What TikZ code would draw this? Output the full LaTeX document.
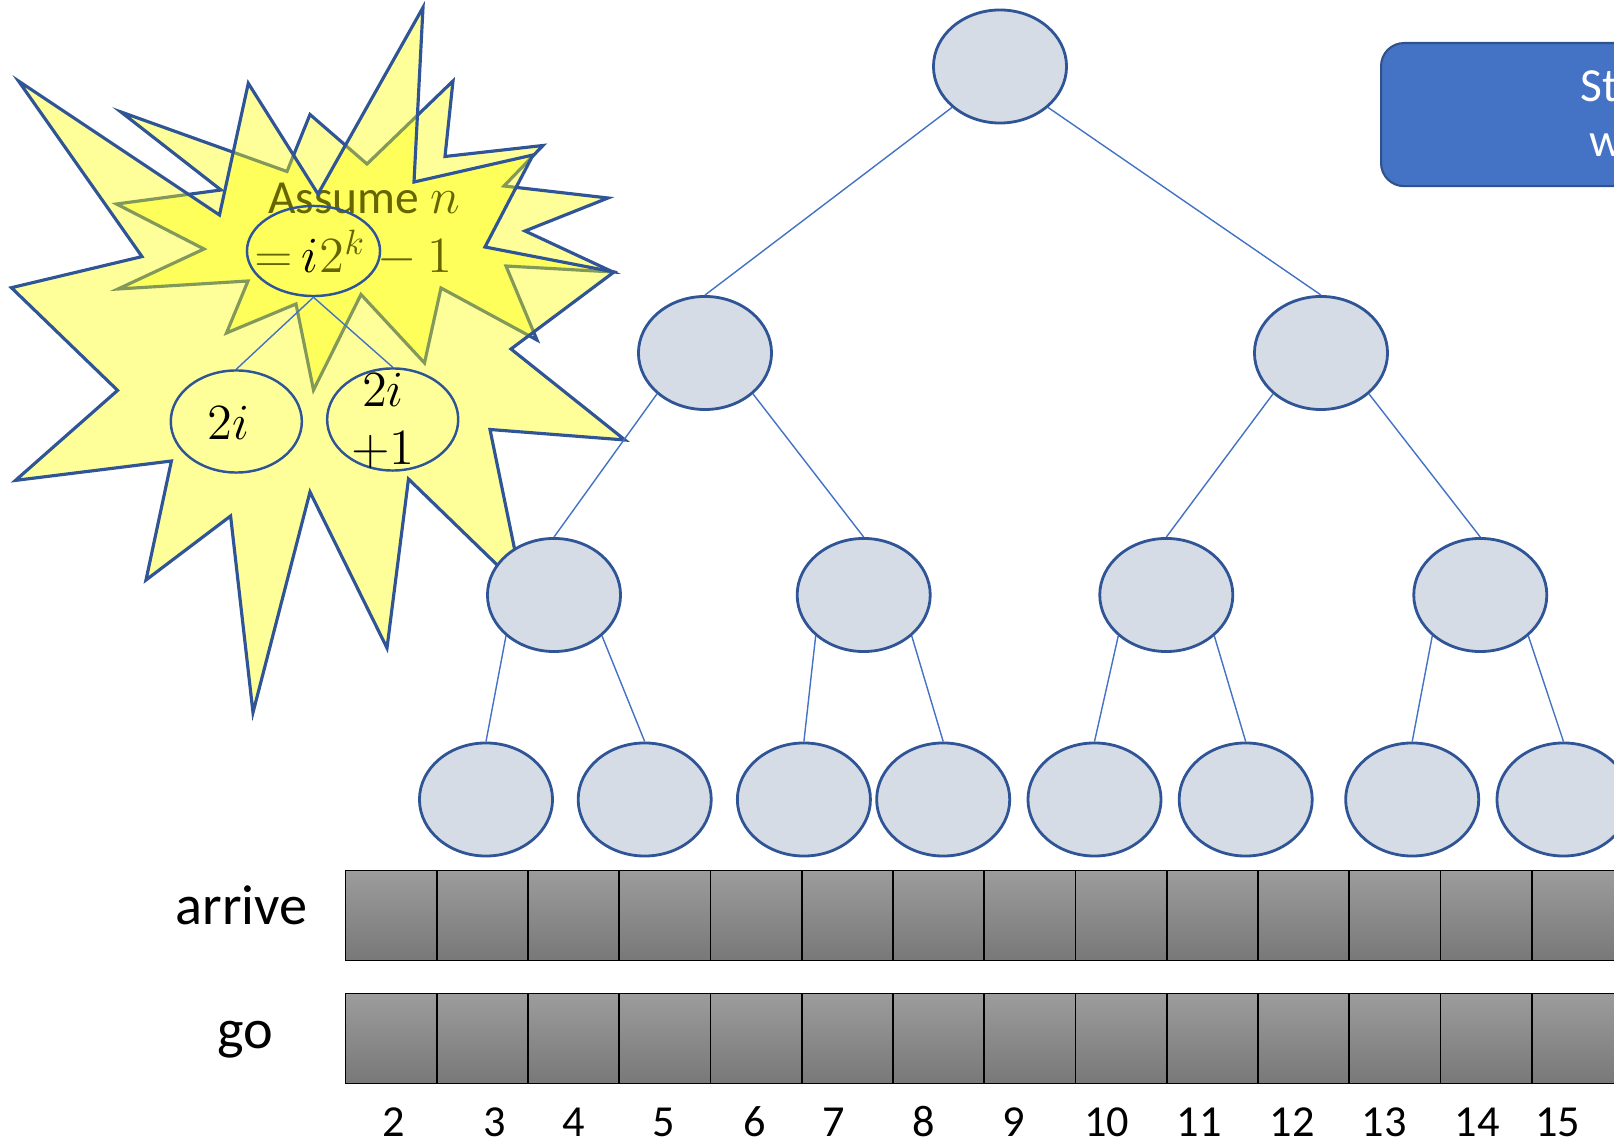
\documentclass[tikz,border=0pt]{standalone}
\usepackage[no-math]{fontspec}
\setmainfont{Carlito}
\usetikzlibrary{positioning,shapes.geometric}

\definecolor{nodefill}{HTML}{D6DCE5}
\definecolor{nodeline}{HTML}{2F5597}
\definecolor{edgeline}{HTML}{4472C4}
\definecolor{boxfill}{HTML}{4472C4}
\definecolor{boxline}{HTML}{2F528F}
\definecolor{burst}{HTML}{FFFF00}
\definecolor{celltop}{RGB}{156,156,156}
\definecolor{cellbot}{RGB}{120,120,120}

\tikzset{
  heapnode/.style={ellipse, draw=nodeline, fill=nodefill, line width=0.8pt,
    minimum width=1.33cm, minimum height=1.13cm, inner sep=0pt},
  heapedge/.style={draw=edgeline, line width=0.4pt},
  burststar/.style={draw=nodeline, line width=0.9pt, fill=burst, fill opacity=0.4, line join=miter},
  mininode/.style={ellipse, draw=nodeline, line width=0.7pt, inner sep=0pt},
  minitext/.style={inner sep=0pt, align=center, font=\fontsize{14.5}{16.5}\selectfont},
  cell/.style={draw=black, line width=0.45pt, top color=celltop, bottom color=cellbot,
    minimum width=0.9125cm, minimum height=0.9cm, inner sep=0pt, anchor=north west},
  rowlabel/.style={anchor=base, font=\fontsize{16}{19}\selectfont},
  idxlabel/.style={anchor=base, font=\fontsize{12.6}{15}\selectfont},
  notetext/.style={anchor=base west, inner sep=0pt, text=white, font=\fontsize{13.5}{16}\selectfont},
}

\begin{document}
\begin{tikzpicture}[x=0.01cm,y=-0.01cm]
\useasboundingbox (0,0) rectangle (1614,1146);
\clip (0,0) rectangle (1614,1146);

% small burst (behind) with its text
\draw[burststar] (121,112) -- (287,171.5) -- (310,114.5) -- (367,164) -- (453,81) -- (445,156.5)
  -- (543,145.5) -- (504,186) -- (608,198) -- (525,231) -- (613,272) -- (506,266)
  -- (537,340) -- (441,288) -- (424.5,363) -- (361,294.5) -- (313.5,390) -- (296,304)
  -- (226.5,333) -- (248,281) -- (118,289) -- (204,249) -- (116.5,204) -- (221,190) -- cycle;
\node[anchor=base, font=\fontsize{13.5}{16}\selectfont] (assume) at (364,214) {Assume $n$};
\node[inner sep=0pt, anchor=base, font=\fontsize{14}{16}\selectfont] (tii) at (310,273) {\phantom{$i$}};
\node[inner sep=0pt, anchor=base east, font=\fontsize{14}{16}\selectfont] (teq) at ([xshift=-2]tii.base west) {$=$};
\node[inner sep=0pt, anchor=base west, font=\fontsize{14}{16}\selectfont] (tpow) at (tii.base east) {$2^k-1$};

% big burst (front)
\draw[burststar] (18.5,81) -- (219.5,215) -- (248.3,83.3) -- (318,194) -- (423,7.5) -- (414,182)
  -- (533,155) -- (485,247) -- (614,272) -- (511,349) -- (625,440) -- (490,429.5)
  -- (523,590) -- (408.5,479) -- (387,648) -- (310,492) -- (253,712.5) -- (230.6,516)
  -- (146,580) -- (171.4,461) -- (15.5,480.4) -- (117.6,390.4) -- (11.4,287.7) -- (142,256.6) -- cycle;

% small tree in the burst
\node[mininode, minimum width=1.33cm, minimum height=0.9cm] (mi) at (313.5,251) {};
\node[inner sep=0pt, anchor=base, font=\fontsize{14}{16}\selectfont] (ilab) at (tii.base) {$i$};
\node[mininode, minimum width=1.31cm, minimum height=1.02cm] (m2i) at (236.3,421.5) {};
\node[mininode, minimum width=1.31cm, minimum height=1.02cm] (m2ione) at (392.7,419.5) {};
\node[minitext] (m2ilab) at (228.5,423) {$2i$};
\node[minitext] (m2ionelab) at (383,421) {$2i$\\$+1$};
\draw[heapedge] (mi.south) -- (m2i.north);
\draw[heapedge] (mi.south) -- (m2ione.north);

% heap tree
\node[heapnode] (r) at (1000,66.5) {};
\node[heapnode] (l) at (705,353) {};
\node[heapnode] (rr) at (1321,353) {};
\node[heapnode] (c1) at (554,595) {};
\node[heapnode] (c2) at (863.7,595) {};
\node[heapnode] (c3) at (1166.3,595) {};
\node[heapnode] (c4) at (1480.3,595) {};
\foreach \x [count=\i] in {486,644.7,803.9,943.2,1094.5,1245.7,1412.2,1563.5}
  \node[heapnode] (d\i) at (\x,799.5) {};
\foreach \p/\a/\b in {r/l/rr, l/c1/c2, rr/c3/c4, c1/d1/d2, c2/d3/d4, c3/d5/d6, c4/d7/d8} {
  \draw[heapedge] (\p.south west) -- (\a.north);
  \draw[heapedge] (\p.south east) -- (\b.north);
}

% note box, cut at the right edge
\node[draw=boxline, fill=boxfill, line width=0.6pt, rounded corners=0.23cm,
  minimum width=4cm, minimum height=1.43cm, anchor=north west] (note) at (1380,42) {};
\node[notetext] (notea) at (1580,101.5) {St};
\node[notetext] (noteb) at (1589,156.5) {w};

% arrays
\foreach \k in {0,...,14} {
  \node[cell] (arr\k) at ({344.7+91.25*\k},869.8) {};
  \node[cell] (go\k) at ({344.7+91.25*\k},992.8) {};
}
\node[rowlabel] (arrlab) at (241.5,925) {arrive};
\node[rowlabel] (golab) at (245,1048) {go};
\foreach \x/\n in {393.5/2, 494.5/3, 573.5/4, 664/5, 754.5/6, 834/7, 924/8, 1014/9,
  1106.5/10, 1199/11, 1292/12, 1384/13, 1477/14, 1557.5/15}
  \node[idxlabel] (idx\n) at (\x,1136.5) {\n};
\end{tikzpicture}
\end{document}
